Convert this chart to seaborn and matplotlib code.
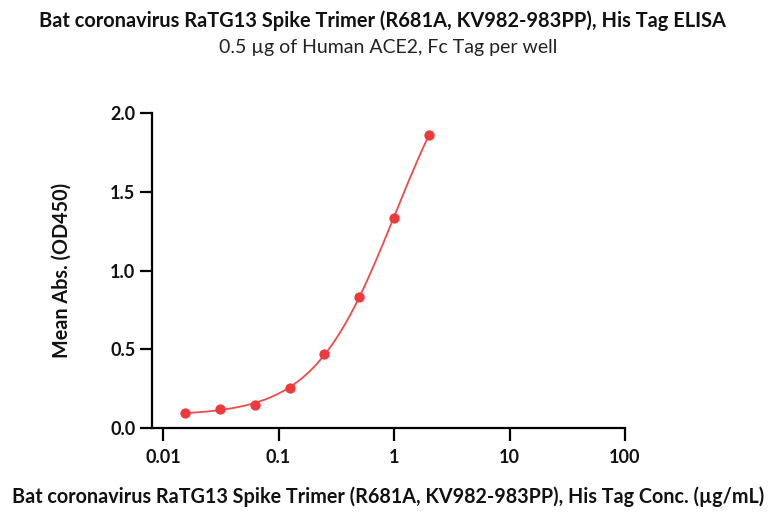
import numpy as np
import pandas as pd
import matplotlib
matplotlib.use("Agg")
import matplotlib.pyplot as plt
import seaborn as sns
from matplotlib.ticker import FixedLocator, FixedFormatter, NullLocator

# ---- data ----
conc = [0.015625, 0.03125, 0.0625, 0.125, 0.25, 0.5, 1.0, 2.0]
od450 = [0.098, 0.123, 0.144, 0.257, 0.469, 0.833, 1.336, 1.858]
x_ticks = [0.01, 0.1, 1, 10, 100]
x_tick_labels = ["0.01", "0.1", "1", "10", "100"]
y_ticks = [0.0, 0.5, 1.0, 1.5, 2.0]
y_tick_labels = ["0.0", "0.5", "1.0", "1.5", "2.0"]

title = "Bat coronavirus RaTG13 Spike Trimer (R681A, KV982-983PP), His Tag ELISA"
subtitle = "0.5 µg of Human ACE2, Fc Tag per well"
xlabel = "Bat coronavirus RaTG13 Spike Trimer (R681A, KV982-983PP), His Tag Conc. (µg/mL)"
ylabel = "Mean Abs. (OD450)"

# ---- 4PL fit of the measured points (numpy Levenberg-Marquardt) ----
xd = np.array(conc)
yd = np.array(od450)

def model(p, x):
    a, d, lc, b = p
    return d + (a - d) / (1.0 + (x / np.exp(lc)) ** b)

p = np.array([yd.min(), yd.max() * 1.5, np.log(1.0), 1.2])
lam = 1e-2
for _ in range(2000):
    r = yd - model(p, xd)
    J = np.zeros((len(xd), 4))
    for i in range(4):
        dp = np.zeros(4); dp[i] = 1e-6
        J[:, i] = (model(p + dp, xd) - model(p - dp, xd)) / 2e-6
    A = J.T @ J
    g = J.T @ r
    step = np.linalg.solve(A + lam * np.diag(np.diag(A) + 1e-9), g)
    pn = p + step
    if np.sum((yd - model(pn, xd)) ** 2) < np.sum(r ** 2):
        p = pn; lam *= 0.5
    else:
        lam *= 3
xf = np.logspace(np.log10(xd.min()), np.log10(xd.max()), 300)
fit_df = pd.DataFrame({"x": xf, "y": model(p, xf)})
pts_df = pd.DataFrame({"x": xd, "y": yd})

# ---- plot ----
sns.set_theme(style="white")
plt.rcParams["font.family"] = ["Lato", "DejaVu Sans"]

W, H = 771, 515
fig = plt.figure(figsize=(W / 100, H / 100), dpi=100)
left, right, top, bottom = 152, 625, 113, 428
ax = fig.add_axes([left / W, 1 - bottom / H, (right - left) / W, (bottom - top) / H])

red = "#EE3A3D"
sns.lineplot(data=fit_df, x="x", y="y", ax=ax, color="#F04A4A", linewidth=1.3)
sns.scatterplot(data=pts_df, x="x", y="y", ax=ax, color=red, s=55, edgecolor=red,
                linewidth=0, zorder=3)

ax.set_xscale("log")
px_per_dec = (625 - 163) / 4.0
ax.set_xlim(10 ** (-2 - (163 - left) / px_per_dec), 100)
ax.set_ylim(0, 2.0)

ax.xaxis.set_major_locator(FixedLocator(x_ticks))
ax.xaxis.set_major_formatter(FixedFormatter(x_tick_labels))
ax.xaxis.set_minor_locator(NullLocator())
ax.yaxis.set_major_locator(FixedLocator(y_ticks))
ax.yaxis.set_major_formatter(FixedFormatter(y_tick_labels))

for s in ["top", "right"]:
    ax.spines[s].set_visible(False)
for s in ["left", "bottom"]:
    ax.spines[s].set_color("black")
    ax.spines[s].set_linewidth(1.6)

ax.tick_params(axis="both", which="major", direction="out", length=9, width=1.6,
               color="black", labelsize=13, bottom=True, left=True)
ax.tick_params(axis="y", pad=3)
ax.tick_params(axis="x", pad=6)
for lab in ax.get_xticklabels() + ax.get_yticklabels():
    lab.set_fontweight("bold")
    lab.set_color("#111111")

ax.set_xlabel(xlabel, fontsize=14.2, fontweight="bold", color="#111111")
ax.set_ylabel(ylabel, fontsize=14.2, fontweight="bold", color="#111111")
ax.xaxis.set_label_coords((388 - left) / (right - left), (bottom - 497) / (bottom - top))
ax.xaxis.label.set_va("center")
ax.yaxis.set_label_coords((62 - left) / (right - left), (bottom - 270) / (bottom - top))
ax.yaxis.label.set_va("center")

fig.text(382 / W, 1 - 21 / H, title, ha="center", va="center", fontsize=14.4,
         fontweight="bold", color="#111111")
fig.text(388 / W, 1 - 47 / H, subtitle, ha="center", va="center", fontsize=14,
         color="#222222")

fig.savefig("out.png", dpi=100)
